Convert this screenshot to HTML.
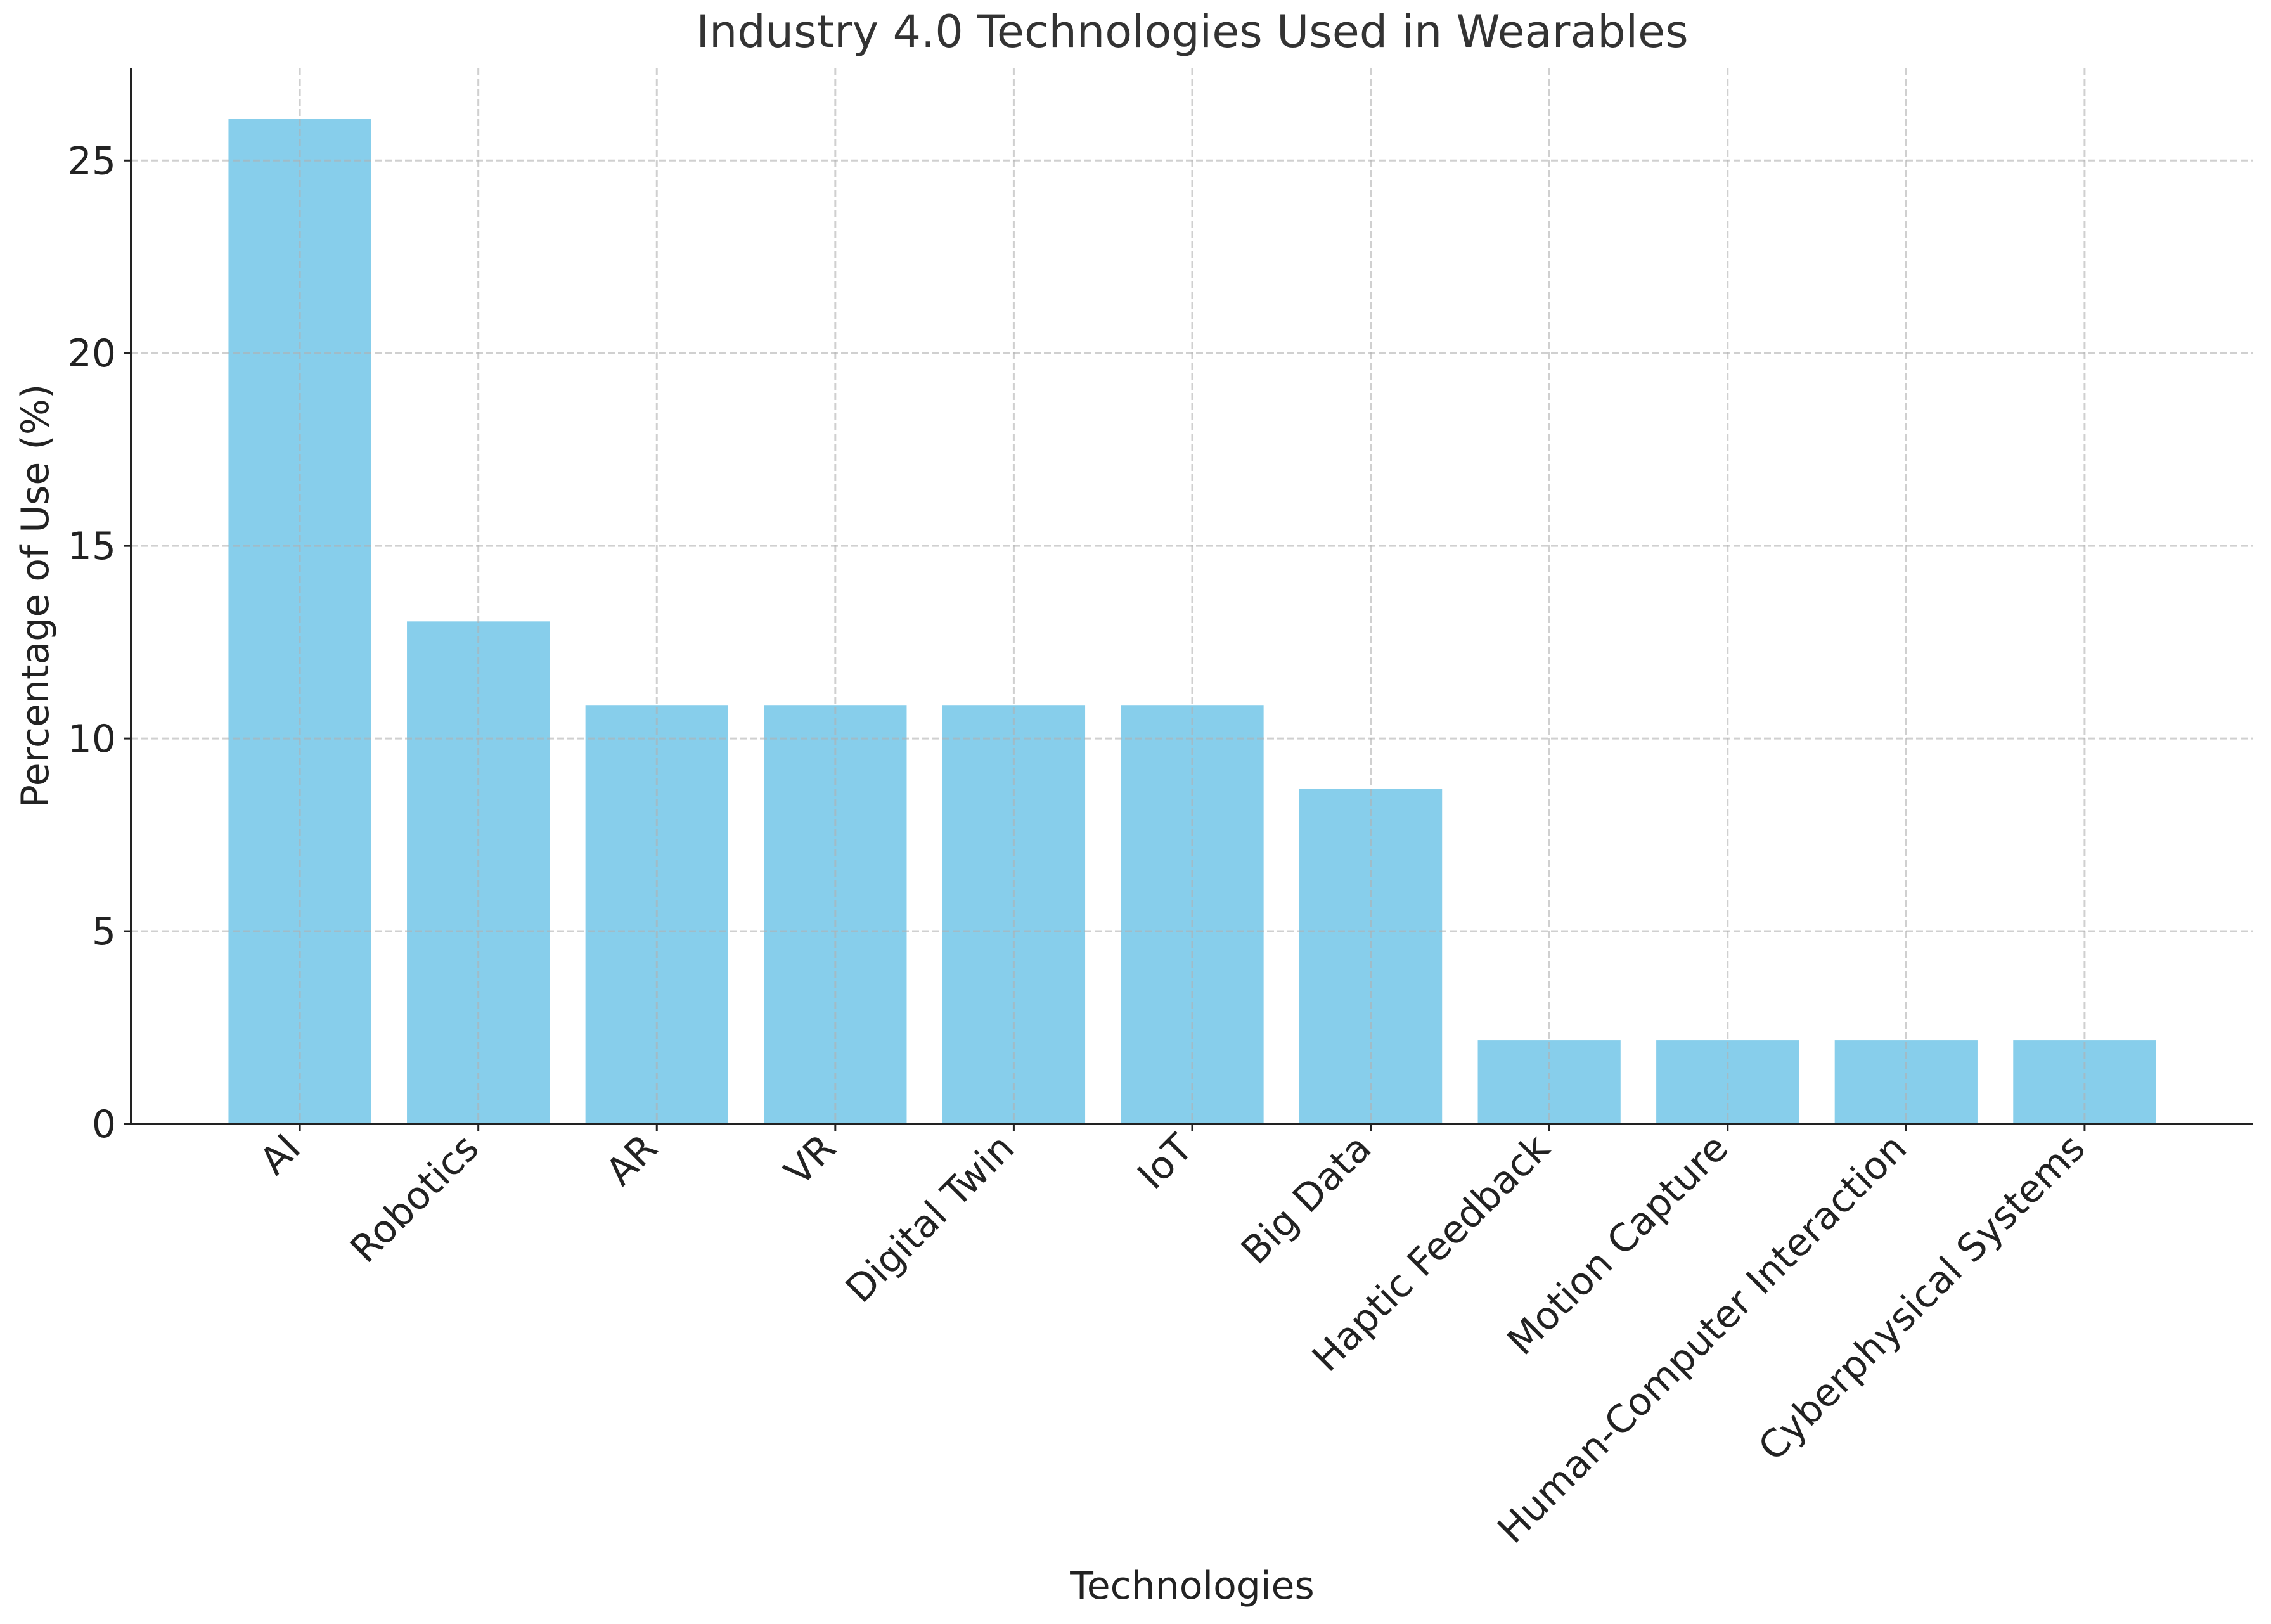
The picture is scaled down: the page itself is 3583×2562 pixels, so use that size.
<!DOCTYPE html>
<html><head><meta charset="utf-8"><style>
html,body{margin:0;padding:0;background:#fff;}
svg{display:block;font-family:"DejaVu Sans","Liberation Sans",sans-serif;}
</style></head><body>
<svg id="chart" width="3583" height="2562" viewBox="0 0 3583 2562" xmlns="http://www.w3.org/2000/svg">
<rect width="3583" height="2562" fill="#fff"/>
<text x="1881" y="74" text-anchor="middle" font-size="70" fill="#333">Industry 4.0 Technologies Used in Wearables</text>
<text x="1881" y="2522" text-anchor="middle" font-size="60" fill="#222">Technologies</text>
<text transform="translate(76,940) rotate(-90)" text-anchor="middle" font-size="60" fill="#222">Percentage of Use (%)</text>
<g id="bars"></g><g id="grid"></g><g id="axes"></g>
</svg>
<script>
const categories = ["AI","Robotics","AR","VR","Digital Twin","IoT","Big Data","Haptic Feedback","Motion Capture","Human-Computer Interaction","Cyberphysical Systems"];
const values = [26.09,13.04,10.87,10.87,10.87,10.87,8.70,2.17,2.17,2.17,2.17];
const yTicks = [0,5,10,15,20,25];
const NS="http://www.w3.org/2000/svg";
const L=207,R=3555,T=108,B=1773;
const xMin=-0.945,xMax=10.945,yMax=27.39;
const xs=i=>L+(i-xMin)/(xMax-xMin)*(R-L);
const ys=v=>B-v/yMax*(B-T);
const bw=0.8*(R-L)/(xMax-xMin);
function mk(tag,attrs,parent){const e=document.createElementNS(NS,tag);for(const k in attrs)e.setAttribute(k,attrs[k]);parent.appendChild(e);return e;}
const gb=document.getElementById('bars'),gg=document.getElementById('grid'),ga=document.getElementById('axes');
values.forEach((v,i)=>{
 const r=mk('rect',{x:xs(i)-bw/2,y:ys(v),width:bw,height:B-ys(v),fill:'#87ceeb'},gb);
 
 
 const g=mk('line',{x1:xs(i),x2:xs(i),y1:T,y2:B,stroke:'#b0b0b0','stroke-opacity':0.6,'stroke-width':3,'stroke-dasharray':'11,5'},gg);
 
 
 const t=mk('line',{x1:xs(i),x2:xs(i),y1:B,y2:B+12,stroke:'#222','stroke-width':3},ga);
 
 
 const ax0=xs(i)+4, ay0=B+42;
 const lb=mk('text',{x:ax0,y:ay0,'text-anchor':'end','font-size':60,fill:'#222',transform:`rotate(-45 ${ax0} ${ay0})`},ga);
 lb.textContent=categories[i];
 
 
});
yTicks.forEach(v=>{
 const g=mk('line',{x1:L,x2:R,y1:ys(v),y2:ys(v),stroke:'#b0b0b0','stroke-opacity':0.6,'stroke-width':3,'stroke-dasharray':'11,5'},gg);
 
 
 const t=mk('line',{x1:L-12,x2:L,y1:ys(v),y2:ys(v),stroke:'#222','stroke-width':3},ga);
 
 
 const lb=mk('text',{x:L-24,y:ys(v)+21,'text-anchor':'end','font-size':60,fill:'#222'},ga);
 lb.textContent=v;
 
 
});
const ax=mk('line',{x1:L,x2:L,y1:T,y2:B+1.5,stroke:'#222','stroke-width':4},ga);


const bx=mk('line',{x1:L-1.5,x2:R,y1:B,y2:B,stroke:'#222','stroke-width':4},ga);


</script>
</body></html>
